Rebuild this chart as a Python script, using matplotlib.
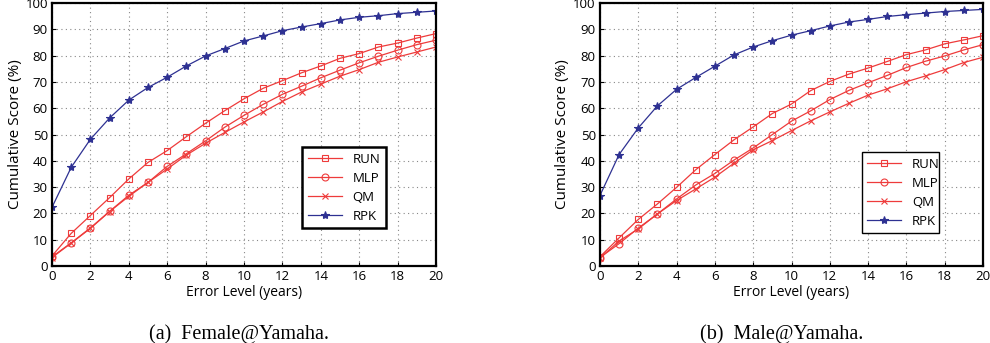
import numpy as np
import matplotlib
matplotlib.use("Agg")
import matplotlib.pyplot as plt

# error levels (years)
levels = np.arange(0, 21)

# Female@Yamaha
fem_run = [3.8, 12.4, 19.2, 26.0, 33.1, 39.4, 43.9, 49.2, 54.3, 59.1, 63.6,
           67.6, 70.5, 73.5, 76.1, 79.0, 80.8, 83.3, 84.8, 86.7, 88.4]
fem_mlp = [3.5, 8.8, 14.5, 20.8, 26.9, 31.8, 37.9, 42.7, 47.6, 52.8, 57.3,
           61.5, 65.3, 68.4, 71.6, 74.5, 77.3, 79.8, 82.1, 84.2, 85.9]
fem_qm = [3.2, 8.7, 14.3, 20.7, 26.5, 31.8, 36.9, 42.2, 46.7, 50.8, 54.8,
          58.6, 62.6, 66.2, 69.2, 72.2, 74.7, 77.5, 79.5, 81.4, 83.3]
fem_rpk = [22.3, 37.5, 48.2, 56.3, 63.1, 67.9, 71.8, 76.1, 79.9, 82.7, 85.6,
           87.5, 89.5, 90.9, 92.2, 93.6, 94.6, 95.2, 96.0, 96.5, 97.0]

# Male@Yamaha
male_run = [3.5, 10.7, 17.7, 23.6, 29.9, 36.6, 42.4, 48.0, 52.9, 58.0, 61.6,
            66.7, 70.2, 73.0, 75.3, 77.8, 80.4, 82.2, 84.5, 86.0, 87.6]
male_mlp = [3.2, 8.5, 14.4, 19.8, 25.5, 30.8, 35.2, 40.3, 44.9, 50.0, 55.1,
            59.0, 63.3, 66.8, 69.7, 72.5, 75.5, 77.9, 79.9, 82.2, 84.2]
male_qm = [3.0, 9.5, 14.1, 19.8, 24.9, 29.3, 33.8, 39.1, 44.2, 47.7, 51.5,
           55.2, 58.6, 61.9, 65.0, 67.4, 70.1, 72.3, 74.7, 77.4, 79.4]
male_rpk = [26.8, 42.4, 52.5, 60.9, 67.2, 71.7, 76.0, 80.3, 83.3, 85.7, 87.8,
            89.5, 91.3, 92.8, 93.8, 94.9, 95.6, 96.2, 96.8, 97.2, 97.6]

names = ["RUN", "MLP", "QM", "RPK"]
markers = ["s", "o", "x", "*"]
red = "#ee3b3b"
blue = "#2e3192"
colors = [red, red, red, blue]

plt.rcParams["font.family"] = ["Open Sans", "DejaVu Sans"]

fig = plt.figure(figsize=(9.9, 3.43), dpi=100)
ax1 = fig.add_axes([0.0525, 0.2245, 0.388, 0.7665])
ax2 = fig.add_axes([0.606, 0.2245, 0.387, 0.7665])

panels = [
    (ax1, [fem_run, fem_mlp, fem_qm, fem_rpk], (0.652, 0.115, 0.217, 0.336), 1.8),
    (ax2, [male_run, male_mlp, male_qm, male_rpk], (0.683, 0.138, 0.203, 0.294), 1.0),
]

for ax, series, bbox, lw_leg in panels:
    for vals, name, mk, c in zip(series, names, markers, colors):
        ms = 6 if mk == "*" else 5
        ax.plot(levels, vals, color=c, marker=mk, markersize=ms, lw=0.9,
                markerfacecolor="none" if mk in ("s", "o") else c,
                markeredgewidth=0.8, label=name)
    ax.set_xlim(0, 20)
    ax.set_ylim(0, 100)
    ax.set_xticks(range(0, 21, 2))
    ax.set_yticks(range(0, 101, 10))
    ax.grid(True, color="#888888", linestyle=(0, (1, 3)), lw=0.8)
    ax.tick_params(direction="in", labelsize=9.5, length=3, pad=3)
    for s in ax.spines.values():
        s.set_linewidth(1.6)
    ax.set_xlabel("Error Level (years)", fontsize=10, labelpad=1)
    ax.set_ylabel("Cumulative Score (%)", fontsize=11, labelpad=2)
    leg = ax.legend(loc="upper left", bbox_to_anchor=bbox, mode="expand",
                    fontsize=9.5, fancybox=False, edgecolor="black",
                    framealpha=1, handlelength=2.6, labelspacing=0.45,
                    borderaxespad=0)
    leg.get_frame().set_linewidth(lw_leg)

fig.text(0.241, 0.012, "(a)  Female@Yamaha.", ha="center", va="baseline",
         fontsize=14.5, family="Liberation Serif")
fig.text(0.790, 0.012, "(b)  Male@Yamaha.", ha="center", va="baseline",
         fontsize=14.5, family="Liberation Serif")

fig.savefig("out.png", dpi=100)
